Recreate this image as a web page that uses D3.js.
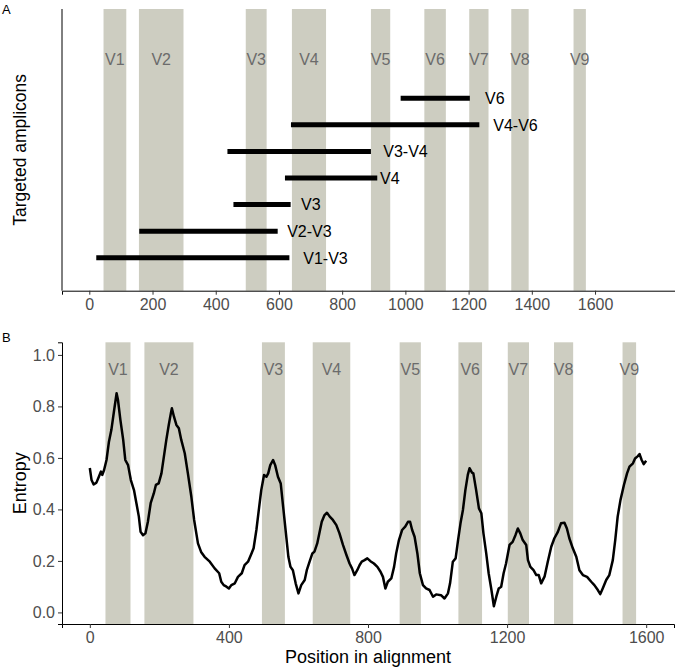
<!DOCTYPE html>
<html><head><meta charset="utf-8">
<script src="https://cdn.jsdelivr.net/npm/d3@7"></script>
<style>body{margin:0;background:#fff}svg{display:block;font-family:"Liberation Sans",Arial,sans-serif}</style>
</head><body><svg id="c" width="675" height="670"></svg>
<script>
// ---- data ----
const regionNames = ["V1","V2","V3","V4","V5","V6","V7","V8","V9"];
const regionStart = [45,157,495,641,891,1060,1202,1335,1532];
const regionEnd   = [117,298,561,749,952,1128,1263,1390,1571];

const ampliconNames = ["V1-V3","V2-V3","V3","V4","V3-V4","V4-V6","V6"];
const ampliconStart = [22,158,456,619,437,638,985];
const ampliconEnd   = [633,596,637,911,891,1234,1204];
const ampliconLabelX = [677,626,670,920,930,1278,1252];

const topTicks = [0,200,400,600,800,1000,1200,1400,1600];
const bottomTicks = [0,400,800,1200,1600];
const entropyTicks = [0,0.2,0.4,0.6,0.8,1.0];

const position = [0,5,11,19,26,32,36,41,48,55,62,70,77,81,88,96,102,110,118,127,134,141,146,153,160,167,175,184,190,198,206,213,220,227,233,236,242,249,256,263,273,282,292,300,311,320,330,345,359,372,378,385,393,400,407,417,426,437,445,455,465,471,479,486,493,501,508,513,519,527,533,541,549,556,563,571,577,584,592,600,608,618,624,632,640,646,654,661,667,675,682,690,699,709,718,728,738,747,754,761,769,776,782,790,798,807,817,827,836,843,850,857,867,875,881,889,898,907,915,921,927,934,942,949,958,967,977,987,996,1010,1020,1030,1036,1044,1052,1059,1066,1073,1080,1087,1092,1099,1103,1111,1119,1126,1132,1140,1147,1155,1162,1169,1176,1183,1190,1197,1207,1216,1224,1231,1238,1245,1255,1260,1267,1276,1284,1291,1298,1308,1317,1327,1336,1346,1355,1365,1372,1379,1389,1399,1408,1418,1430,1442,1451,1461,1468,1475,1485,1494,1504,1511,1518,1526,1536,1545,1552,1562,1568,1576,1581,1587,1593,1600];
const entropy = [0.561,0.514,0.497,0.504,0.527,0.547,0.534,0.553,0.592,0.663,0.709,0.786,0.851,0.825,0.747,0.670,0.592,0.572,0.514,0.475,0.424,0.372,0.313,0.300,0.307,0.352,0.424,0.462,0.495,0.501,0.540,0.605,0.670,0.728,0.773,0.793,0.760,0.728,0.715,0.670,0.618,0.540,0.449,0.359,0.268,0.235,0.216,0.197,0.171,0.152,0.119,0.106,0.100,0.093,0.106,0.113,0.138,0.152,0.184,0.197,0.229,0.249,0.320,0.398,0.475,0.534,0.527,0.540,0.572,0.592,0.572,0.527,0.501,0.410,0.320,0.216,0.177,0.164,0.113,0.074,0.106,0.126,0.164,0.197,0.229,0.236,0.268,0.313,0.352,0.378,0.387,0.372,0.359,0.339,0.307,0.262,0.223,0.190,0.171,0.145,0.164,0.184,0.197,0.203,0.210,0.199,0.190,0.177,0.158,0.138,0.093,0.119,0.132,0.177,0.229,0.281,0.320,0.333,0.352,0.352,0.320,0.294,0.229,0.152,0.106,0.093,0.087,0.061,0.070,0.067,0.054,0.074,0.113,0.197,0.210,0.281,0.346,0.398,0.475,0.534,0.560,0.543,0.540,0.475,0.404,0.385,0.307,0.229,0.152,0.087,0.024,0.061,0.093,0.100,0.152,0.190,0.262,0.274,0.300,0.326,0.307,0.281,0.262,0.203,0.177,0.164,0.145,0.145,0.113,0.140,0.197,0.255,0.288,0.313,0.346,0.348,0.326,0.288,0.249,0.216,0.164,0.145,0.138,0.119,0.106,0.087,0.071,0.093,0.126,0.145,0.203,0.281,0.372,0.436,0.495,0.540,0.566,0.579,0.598,0.607,0.615,0.592,0.576,0.589];

// ---- drawing ----
const svg = d3.select("#c");
const bandColor = "#cdcdc1";
const tickColor = "#4d4d4d";
const regions = regionNames.map((n,i)=>({name:n,s:regionStart[i],e:regionEnd[i]}));

// Panel A
const A = {left:62, right:675, top:9, bottom:290.7};
const xA = d3.scaleLinear().domain([-86.4,1853]).range([A.left,A.right]);
const yA = d3.scaleLinear().domain([-0.24,10.36]).range([A.bottom,A.top]);
const gA = svg.append("g");
gA.selectAll("rect.band").data(regions).join("rect")
  .attr("x",d=>xA(d.s)).attr("width",d=>xA(d.e)-xA(d.s))
  .attr("y",A.top).attr("height",A.bottom-A.top).attr("fill",bandColor);
gA.selectAll("text.band").data(regions).join("text")
  .attr("x",d=>xA((d.s+d.e)/2)).attr("y",yA(8.48)).attr("dy","0.36em")
  .attr("text-anchor","middle").attr("font-size",16).attr("fill","#6b6b6b").text(d=>d.name);
const amps = ampliconNames.map((n,i)=>({name:n,s:ampliconStart[i],e:ampliconEnd[i],lx:ampliconLabelX[i],k:i+1}));
gA.selectAll("line.amp").data(amps).join("line")
  .attr("x1",d=>xA(d.s)).attr("x2",d=>xA(d.e)).attr("y1",d=>yA(d.k)).attr("y2",d=>yA(d.k))
  .attr("stroke","#000").attr("stroke-width",5);
gA.selectAll("text.amp").data(amps).join("text")
  .attr("x",d=>xA(d.lx)).attr("y",d=>yA(d.k)).attr("dy","0.36em")
  .attr("font-size",16).attr("fill","#000").text(d=>d.name);
gA.append("g").attr("transform",`translate(0,${A.bottom})`)
  .call(d3.axisBottom(xA).tickValues(topTicks).tickSize(4).tickPadding(4).tickFormat(d3.format("d")));
gA.append("line").attr("x1",A.left).attr("x2",A.left).attr("y1",A.top).attr("y2",A.bottom).attr("stroke","#000");
gA.append("text").attr("transform",`translate(26,${(A.top+A.bottom)/2}) rotate(-90)`)
  .attr("text-anchor","middle").attr("font-size",17.5).text("Targeted amplicons");
svg.append("text").attr("x",2).attr("y",13.5).attr("font-size",13).text("A");

// Panel B
const B = {left:62, right:674, top:342.3, bottom:624};
const xB = d3.scaleLinear().domain([-80,1680]).range([B.left,B.right]);
const yB = d3.scaleLinear().domain([-0.045,1.049]).range([B.bottom,B.top]);
const gB = svg.append("g");
gB.selectAll("rect.band").data(regions).join("rect")
  .attr("x",d=>xB(d.s)).attr("width",d=>xB(d.e)-xB(d.s))
  .attr("y",B.top).attr("height",B.bottom-B.top).attr("fill",bandColor);
gB.selectAll("text.band").data(regions).join("text")
  .attr("x",d=>xB((d.s+d.e)/2)).attr("y",yB(0.946)).attr("dy","0.36em")
  .attr("text-anchor","middle").attr("font-size",16).attr("fill","#6b6b6b").text(d=>d.name);
const pts = position.map((p,i)=>[p,entropy[i]]);
gB.append("path").datum(pts)
  .attr("d",d3.line().x(d=>xB(d[0])).y(d=>yB(d[1])))
  .attr("fill","none").attr("stroke","#000").attr("stroke-width",2.5).attr("stroke-linejoin","round");
gB.append("g").attr("transform",`translate(0,${B.bottom})`)
  .call(d3.axisBottom(xB).tickValues(bottomTicks).tickSize(4).tickPadding(4).tickFormat(d3.format("d")));
gB.append("g").attr("transform",`translate(${B.left},0)`)
  .call(d3.axisLeft(yB).tickValues(entropyTicks).tickSize(4).tickPadding(3).tickFormat(d3.format(".1f")));
gB.append("text").attr("transform",`translate(26,${(B.top+B.bottom)/2}) rotate(-90)`)
  .attr("text-anchor","middle").attr("font-size",18).text("Entropy");
gB.append("text").attr("x",(B.left+B.right)/2).attr("y",663).attr("text-anchor","middle")
  .attr("font-size",18).text("Position in alignment");
svg.append("text").attr("x",2).attr("y",342).attr("font-size",13).text("B");

// axis styling
svg.selectAll(".domain").attr("stroke","#000").attr("stroke-width",1);
svg.selectAll(".tick line").attr("stroke","#333");
svg.selectAll(".tick text").attr("fill",tickColor).attr("font-size",16).attr("font-family","Liberation Sans, Arial, sans-serif");
</script></body></html>
